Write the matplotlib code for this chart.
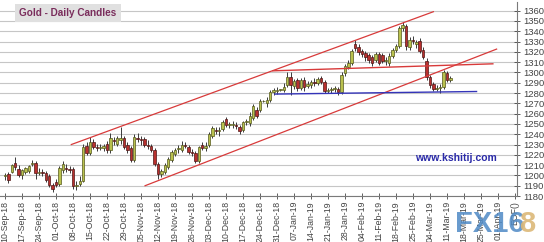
import matplotlib
matplotlib.use("Agg")
import matplotlib.pyplot as plt
import numpy as np
import pandas as pd

# trading days, 10-Sep-18 .. 12-Mar-19
dates = pd.bdate_range("2018-09-10", "2019-03-12")

opens = [1199, 1201, 1203, 1212, 1206, 1200, 1203, 1204, 1211, 1212,
         1202, 1203, 1202, 1199, 1191, 1194, 1192, 1205, 1207, 1206,
         1206, 1190, 1192, 1195, 1229, 1222, 1232, 1228, 1227, 1227,
         1231, 1225, 1234, 1231, 1234, 1236, 1230, 1227, 1215, 1236,
         1235, 1235, 1230, 1229, 1225, 1211, 1201, 1203, 1208, 1215,
         1221, 1226, 1225, 1230, 1228, 1223, 1222, 1214, 1230, 1227,
         1230, 1238, 1244, 1243, 1245, 1255, 1249, 1249, 1249, 1247,
         1244, 1252, 1251, 1256, 1264, 1264, 1272, 1270, 1273, 1281,
         1282, 1283, 1283, 1288, 1296, 1287, 1293, 1285, 1293, 1287,
         1288, 1291, 1290, 1295, 1291, 1282, 1283, 1284, 1284, 1281,
         1299, 1305, 1309, 1328, 1325, 1321, 1319, 1317, 1315, 1312,
         1318, 1317, 1311, 1309, 1316, 1322, 1326, 1343, 1345, 1325,
         1332, 1328, 1331, 1322, 1311, 1296, 1289, 1284, 1285, 1286,
         1299, 1293]
highs = [1202, 1203, 1211, 1218, 1210, 1206, 1208, 1210, 1215, 1214,
         1207, 1206, 1204, 1201, 1193, 1197, 1209, 1214, 1211, 1209,
         1208, 1195, 1199, 1231, 1232, 1237, 1235, 1231, 1231, 1231,
         1233, 1241, 1237, 1238, 1247, 1238, 1232, 1229, 1240, 1241,
         1238, 1237, 1234, 1231, 1227, 1213, 1206, 1212, 1218, 1225,
         1227, 1230, 1233, 1232, 1230, 1226, 1224, 1229, 1232, 1232,
         1242, 1248, 1247, 1247, 1254, 1257, 1252, 1253, 1252, 1249,
         1253, 1255, 1262, 1269, 1266, 1274, 1273, 1276, 1283, 1285,
         1286, 1284, 1290, 1300, 1300, 1294, 1295, 1295, 1296, 1292,
         1293, 1295, 1296, 1297, 1293, 1285, 1286, 1287, 1286, 1300,
         1308, 1312, 1323, 1332, 1328, 1323, 1321, 1319, 1317, 1320,
         1320, 1319, 1315, 1319, 1324, 1328, 1345, 1349, 1347, 1334,
         1335, 1332, 1333, 1325, 1314, 1298, 1291, 1288, 1289, 1302,
         1301, 1297]
lows = [1196, 1193, 1202, 1205, 1198, 1197, 1201, 1202, 1209, 1197,
        1200, 1199, 1194, 1189, 1184, 1189, 1190, 1202, 1203, 1202,
        1187, 1186, 1190, 1194, 1220, 1220, 1226, 1224, 1225, 1224,
        1222, 1222, 1230, 1229, 1231, 1226, 1222, 1213, 1213, 1232,
        1230, 1228, 1226, 1223, 1209, 1197, 1198, 1201, 1206, 1213,
        1219, 1222, 1223, 1227, 1221, 1219, 1212, 1212, 1225, 1224,
        1228, 1236, 1240, 1238, 1243, 1247, 1246, 1246, 1245, 1240,
        1242, 1249, 1248, 1254, 1256, 1262, 1271, 1266, 1271, 1278,
        1279, 1282, 1281, 1286, 1278, 1284, 1282, 1283, 1282, 1285,
        1285, 1287, 1288, 1289, 1280, 1280, 1280, 1281, 1278, 1279,
        1297, 1303, 1307, 1321, 1317, 1315, 1311, 1309, 1306, 1310,
        1307, 1309, 1307, 1306, 1314, 1320, 1324, 1340, 1322, 1322,
        1328, 1324, 1319, 1313, 1293, 1285, 1282, 1282, 1280, 1284,
        1291, 1291]
closes = [1200, 1196, 1210, 1208, 1200, 1205, 1207, 1209, 1212, 1202,
          1203, 1202, 1196, 1191, 1187, 1191, 1207, 1211, 1206, 1205,
          1190, 1191, 1195, 1228, 1222, 1232, 1228, 1227, 1228, 1229,
          1225, 1236, 1233, 1236, 1236, 1228, 1225, 1215, 1237, 1235,
          1234, 1230, 1229, 1225, 1211, 1201, 1204, 1210, 1216, 1223,
          1225, 1227, 1230, 1229, 1223, 1222, 1214, 1228, 1227, 1229,
          1240, 1246, 1243, 1244, 1252, 1249, 1249, 1250, 1248, 1243,
          1252, 1253, 1258, 1267, 1258, 1272, 1272, 1273, 1281, 1283,
          1283, 1283, 1286, 1296, 1288, 1292, 1285, 1293, 1286, 1289,
          1291, 1290, 1294, 1291, 1282, 1283, 1284, 1284, 1281, 1298,
          1306, 1309, 1321, 1324, 1320, 1318, 1315, 1312, 1309, 1318,
          1309, 1311, 1312, 1316, 1322, 1326, 1343, 1346, 1326, 1332,
          1331, 1330, 1321, 1315, 1296, 1288, 1284, 1285, 1286, 1300,
          1293, 1295]

# weekly axis labels (one every 5 trading days)
tick_labels = ["10-Sep-18", "17-Sep-18", "24-Sep-18", "01-Oct-18", "08-Oct-18",
               "15-Oct-18", "22-Oct-18", "29-Oct-18", "05-Nov-18", "12-Nov-18",
               "19-Nov-18", "26-Nov-18", "03-Dec-18", "10-Dec-18", "17-Dec-18",
               "24-Dec-18", "31-Dec-18", "07-Jan-19", "14-Jan-19", "21-Jan-19",
               "28-Jan-19", "04-Feb-19", "11-Feb-19", "18-Feb-19", "25-Feb-19",
               "04-Mar-19", "11-Mar-19", "18-Mar-19", "25-Mar-19", "01-Apr-19",
               "EOF()"]

# hand-drawn lines: (trading-day index, price) endpoints
upper_channel = ([19.5, 126.0], [1230, 1359])
lower_channel = ([41.2, 144.6], [1190, 1322.7])
red_line = ([78.8, 143.5], [1301.6, 1308.4])
blue_line = ([79.4, 138.7], [1279, 1281.5])

fig = plt.figure(figsize=(5.44, 2.42), dpi=100)
ax = fig.add_axes([0.0, 0.19, 517 / 544, 0.802])

x = np.arange(len(dates))
o = np.array(opens, float)
c = np.array(closes, float)
up = c >= o
body = np.where(np.abs(c - o) < 0.6, 0.6, c - o)

ax.vlines(x, lows, highs, color="#3a3a3a", linewidth=0.7, zorder=2)
ax.bar(x[up], body[up], bottom=o[up], width=0.75, color="#b9c14e",
       edgecolor="#55581c", linewidth=0.5, zorder=3)
ax.bar(x[~up], body[~up], bottom=o[~up], width=0.75, color="#b8302e",
       edgecolor="#4e1616", linewidth=0.5, zorder=3)

ax.plot(*upper_channel, color="#d83a3a", linewidth=0.9, zorder=4)
ax.plot(*lower_channel, color="#d83a3a", linewidth=0.9, zorder=4)
ax.plot(*red_line, color="#d83a3a", linewidth=1.0, zorder=4)
ax.plot(*blue_line, color="#3434b8", linewidth=1.0, zorder=4)

ax.set_xlim(-1.47, 150.6)
ax.set_ylim(1180, 1368.5)
ax.set_xticks(np.arange(len(tick_labels)) * 5)
ax.set_xticklabels(tick_labels, rotation=90, fontsize=6.3,
                   family="Liberation Sans", color="#444444")
ax.set_yticks(np.arange(1180, 1361, 10))
ax.yaxis.tick_right()
ax.tick_params(axis="y", labelsize=6.8, colors="#444444", direction="inout",
               length=5, width=0.6, pad=2)
ax.tick_params(axis="x", colors="#444444", direction="inout", length=5,
               width=0.6, pad=1)
for lab in ax.get_yticklabels():
    lab.set_family("Liberation Sans")

ax.yaxis.grid(True, color="#c6c6c6", linewidth=0.8)
ax.set_axisbelow(True)
for side in ["top", "left"]:
    ax.spines[side].set_visible(False)
for side in ["bottom", "right"]:
    ax.spines[side].set_color("#7a7a7a")
    ax.spines[side].set_linewidth(0.8)

fig.text(19 / 544, 1 - 13 / 242, "Gold - Daily Candles", fontsize=7.2,
         fontweight="bold", color="#7a2d5c", family="Liberation Sans",
         va="center", ha="left",
         bbox=dict(facecolor="#e0e0e0", edgecolor="none", pad=3.2))

fig.text(456 / 544, 1 - 158 / 242, "www.kshitij.com", fontsize=7.5,
         fontweight="bold", color="#2a2aa8", family="Liberation Sans",
         va="center", ha="center")

# FX168 watermark
fig.text(455 / 544, 1 - 224 / 242, "FX16", fontsize=21, fontweight="bold",
         color="#4f8ac6", alpha=0.85, family="Liberation Sans",
         va="center", ha="left")
fig.text(519 / 544, 1 - 224 / 242, "8", fontsize=21, fontweight="bold",
         color="#dcb878", alpha=0.9, family="Liberation Sans",
         va="center", ha="left")

fig.savefig("out.png", dpi=100, facecolor="white")
